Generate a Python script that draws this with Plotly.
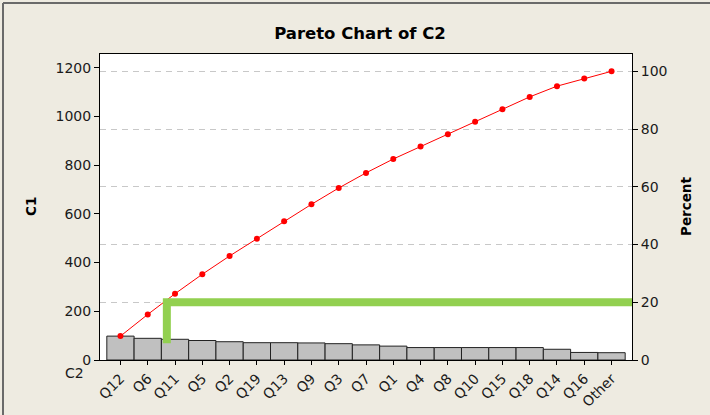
import plotly.graph_objects as go

categories = ["Q12", "Q6", "Q11", "Q5", "Q2", "Q19", "Q13", "Q9", "Q3", "Q7",
              "Q1", "Q4", "Q8", "Q10", "Q15", "Q18", "Q14", "Q16", "Other"]
counts = [98, 89, 85, 80, 75, 71, 71, 70, 67, 62, 57, 51, 51, 51, 51, 51, 44, 31, 30]

left_ticks = [0, 200, 400, 600, 800, 1000, 1200]
right_ticks = [0, 20, 40, 60, 80, 100]

# highlight (green) marker line: vertical at x position, then horizontal at threshold percent
green_x = 1.7
green_bottom_pct = 5.8
green_threshold_pct = 20

total = sum(counts)
cum_pct = []
run = 0
for c in counts:
    run += c
    cum_pct.append(run / total * 100)

idx = list(range(len(categories)))
left_max = 1256
right_max = left_max / total * 100

FONT = "DejaVu Sans"
BG = "#EEEBE1"
TICKFONT = dict(family=FONT, size=14, color="#1a1a1a")

fig = go.Figure()
fig.add_trace(go.Bar(
    x=idx, y=counts, width=1.0,
    marker=dict(color="#C0C0C0", line=dict(color="#222222", width=1)),
    yaxis="y", showlegend=False, hoverinfo="skip"))
fig.add_trace(go.Scatter(
    x=idx, y=cum_pct, mode="lines+markers",
    line=dict(color="#FF0000", width=1),
    marker=dict(color="#FF0000", size=6),
    yaxis="y2", showlegend=False, hoverinfo="skip"))
fig.add_trace(go.Scatter(
    x=[green_x, green_x, len(categories) + 1],
    y=[green_bottom_pct, green_threshold_pct, green_threshold_pct],
    mode="lines", line=dict(color="#92D050", width=8),
    yaxis="y2", showlegend=False, hoverinfo="skip"))

fig.update_layout(
    width=710, height=415,
    margin=dict(l=100, r=78, t=54, b=55),
    paper_bgcolor=BG, plot_bgcolor="#FFFFFF",
    font=dict(family=FONT, size=13, color="#1a1a1a"),
    title=dict(text="<b>Pareto Chart of C2</b>", x=0.507, xref="container",
               xanchor="center", y=1 - 33 / 415, yanchor="middle",
               font=dict(family=FONT, size=16.5, color="#000000")),
    xaxis=dict(range=[-0.75, len(categories) - 0.25], tickmode="array",
               tickvals=idx, ticktext=categories, tickangle=-45,
               ticks="outside", ticklen=4, tickcolor="#000000",
               showline=True, linecolor="#000000", linewidth=1, mirror=True,
               showgrid=False, zeroline=False, automargin=False,
               tickfont=TICKFONT),
    yaxis=dict(range=[0, left_max], tickmode="array", tickvals=left_ticks,
               ticks="outside", ticklen=5, tickcolor="#000000",
               showline=True, linecolor="#000000", linewidth=1,
               showgrid=False, zeroline=False, automargin=False,
               tickfont=TICKFONT),
    yaxis2=dict(range=[0, right_max], tickmode="array", tickvals=right_ticks,
                overlaying="y", side="right",
                ticks="outside", ticklen=5, tickcolor="#000000",
                showline=True, linecolor="#000000", linewidth=1,
                showgrid=True, gridcolor="#C8C8C8", gridwidth=1, griddash="6px,5px",
                zeroline=False, automargin=False,
                tickfont=TICKFONT),
    annotations=[
        dict(text="<b>C1</b>", xref="paper", yref="paper",
             x=(31 - 100) / 532, y=(360 - 207) / 306, textangle=-90,
             showarrow=False, xanchor="center", yanchor="middle",
             font=dict(family=FONT, size=13.5, color="#000000")),
        dict(text="<b>Percent</b>", xref="paper", yref="paper",
             x=(686 - 100) / 532, y=(360 - 207) / 306, textangle=-90,
             showarrow=False, xanchor="center", yanchor="middle",
             font=dict(family=FONT, size=13.5, color="#000000")),
        dict(text="C2", xref="paper", yref="paper",
             x=(74 - 100) / 532, y=(360 - 373) / 306,
             showarrow=False, xanchor="center", yanchor="middle",
             font=dict(family=FONT, size=14, color="#1a1a1a")),
    ],
    shapes=[
        dict(type="line", xref="paper", yref="paper",
             x0=(3 - 100) / 532, x1=(720 - 100) / 532,
             y0=(360 - 3) / 306, y1=(360 - 3) / 306,
             line=dict(color="#6a6a6a", width=2)),
        dict(type="line", xref="paper", yref="paper",
             x0=(3 - 100) / 532, x1=(3 - 100) / 532,
             y0=(360 - 3) / 306, y1=(360 - 425) / 306,
             line=dict(color="#6a6a6a", width=2)),
    ],
)

fig.write_html("out.html",
               config={"displayModeBar": False},
               post_script="document.body.style.margin='0';"
                           "document.body.style.overflow='hidden';")
